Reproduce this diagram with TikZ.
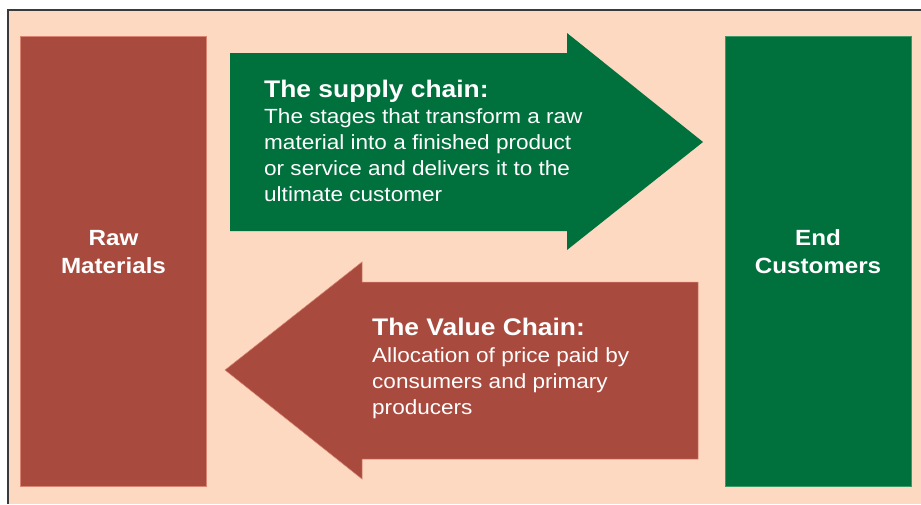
\documentclass[tikz,border=0pt]{standalone}
\usepackage{fontspec}
\setmainfont{Liberation Sans}[FakeStretch=1.1]
\definecolor{peach}{HTML}{FDD9C1}
\definecolor{brick}{HTML}{A94A3E}
\definecolor{brickedge}{HTML}{D98471}
\definecolor{forest}{HTML}{00703C}
\definecolor{forestedge}{HTML}{3C9A66}
\definecolor{framec}{HTML}{3A3A3A}
\tikzset{
  endbox/.style={minimum width=186pt, minimum height=450pt, inner sep=0pt},
  redbox/.style={endbox, fill=brick, draw=brickedge, line width=0.8pt},
  greenbox/.style={endbox, fill=forest, draw=forestedge, line width=0.8pt},
  boxlabel/.style={anchor=base, inner sep=0pt, text=white, align=center, font=\bfseries\fontsize{22}{28}\selectfont},
  titletext/.style={anchor=base west, inner sep=0pt, text=white, font=\bfseries\fontsize{24}{26}\selectfont},
  bodytext/.style={anchor=base west, inner sep=0pt, text=white, align=left, font=\fontsize{20.5}{26}\selectfont},
}
\begin{document}
\begin{tikzpicture}[x=1pt,y=-1pt]
\useasboundingbox (0,0) rectangle (921,504);
\fill[white] (0,0) rectangle (921,504);
\fill[peach] (9,11) rectangle (921,504);
\draw[framec, line width=2pt] (8,504) -- (8,10) -- (921,10);
% end boxes
\node[redbox] (raw) at (113.5,261) {};
\node[boxlabel] (rawt) at (113.5,273) {Raw\\Materials};
\node[greenbox] (cust) at (818,261) {};
\node[boxlabel] (custt) at (818,273) {End\\Customers};
% supply chain arrow
\fill[forest] (230,53) -- (567,53) -- (567,33) -- (703,142) -- (567,250) -- (567,231) -- (230,231) -- cycle;
\node[titletext] (st) at (264,97) {The supply chain:};
\node[bodytext] (sb) at (264,201) {The stages that transform a raw\\material into a finished product\\or service and delivers it to the\\ultimate customer};
% value chain arrow
\filldraw[fill=brick, draw=brickedge, line width=0.5pt] (698,282) -- (362,282) -- (362,262) -- (225,370) -- (362,479) -- (362,459) -- (698,459) -- cycle;
\node[titletext] (vt) at (372,335) {The Value Chain:};
\node[bodytext] (vb) at (372,414) {Allocation of price paid by\\consumers and primary\\producers};
\end{tikzpicture}
\end{document}
